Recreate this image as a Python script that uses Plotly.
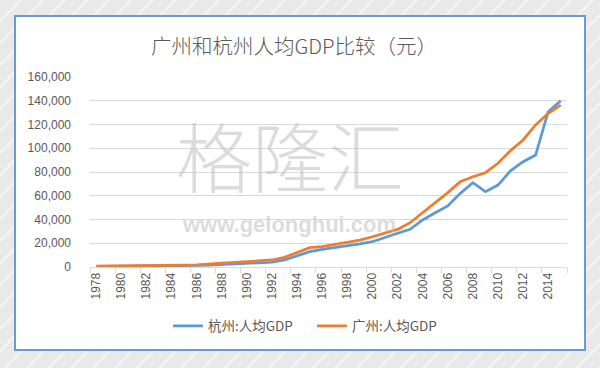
import plotly.graph_objects as go

# ---------------- data ----------------
years = list(range(1978, 2016))
hangzhou_gdp = [450, 500, 600, 650, 700, 800, 950, 1200, 1300, 1600, 2100, 2500,
                2800, 3300, 4000, 5900, 9300, 12900, 14900, 16300, 18000, 19400,
                21300, 25000, 28400, 31700, 39600, 45700, 51400, 62000, 71000, 63400,
                69000, 81000, 88700, 94300, 130800, 140000]
guangzhou_gdp = [650, 700, 770, 850, 900, 970, 1200, 1600, 1800, 2200, 3200, 3800,
                 4300, 4800, 5900, 8100, 12000, 16300, 17100, 19100, 21300, 22700,
                 25500, 28400, 31700, 37300, 45700, 53600, 62600, 71800, 76000, 79400,
                 87300, 98000, 107000, 119600, 129400, 136400]
tick_years = list(range(1978, 2015, 2))
title_text = "广州和杭州人均GDP比较（元）"
series_names = ["杭州:人均GDP", "广州:人均GDP"]

# ---------------- layout geometry (pixels) ----------------
W, H = 600, 368
L, R, T, B = 90, 567, 77, 267
pw, ph = R - L, B - T

def fx(px):
    return (px - L) / pw

def fy(py):
    return (B - py) / ph

grey = "#595959"

fig = go.Figure()
fig.add_trace(go.Scatter(x=years, y=hangzhou_gdp, mode="lines", name=series_names[0],
                         line=dict(color="#5B9BD5", width=2.75)))
fig.add_trace(go.Scatter(x=years, y=guangzhou_gdp, mode="lines", name=series_names[1],
                         line=dict(color="#ED7D31", width=2.75)))

shapes = []
# faint diagonal streaks on the grey background
for k in range(-20, 40):
    x0 = k * 22
    shapes.append(dict(type="line", xref="paper", yref="paper", layer="below",
                       x0=fx(x0), y0=fy(H + 5), x1=fx(x0 + 380), y1=fy(H - 375),
                       line=dict(color="rgba(255,255,255,0.55)", width=2)))
# white card
shapes.append(dict(type="rect", xref="paper", yref="paper", layer="below",
                   x0=fx(15), x1=fx(585), y0=fy(350), y1=fy(16),
                   fillcolor="white", line=dict(color="#6A9AD0", width=2)))

wm_color = "rgba(185,185,185,0.5)"
annotations = [
    dict(text=title_text, xref="paper", yref="paper", x=fx(294), y=fy(45),
         xanchor="center", yanchor="middle", showarrow=False,
         font=dict(family="Noto Sans CJK SC", size=20.5, color=grey, weight=300)),
    dict(text="格隆汇", xref="paper", yref="paper", x=fx(290), y=fy(210),
         xanchor="center", yanchor="bottom", showarrow=False, borderpad=0,
         font=dict(family="Noto Sans CJK SC", size=76, color=wm_color, weight=300)),
    dict(text="<b>www.gelonghui.com</b>", xref="paper", yref="paper", x=fx(289), y=fy(211),
         xanchor="center", yanchor="top", showarrow=False, borderpad=0,
         font=dict(family="Liberation Sans", size=22, color=wm_color)),
]

fig.update_layout(
    width=W, height=H,
    margin=dict(l=L, r=W - R, t=T, b=H - B, pad=0, autoexpand=False),
    paper_bgcolor="#E9E9E9",
    plot_bgcolor="rgba(0,0,0,0)",
    shapes=shapes,
    annotations=annotations,
    showlegend=True,
    legend=dict(orientation="h", x=fx(168), y=fy(326), xanchor="left", yanchor="middle",
                font=dict(family="Noto Sans CJK SC", size=13.5, color=grey),
                bgcolor="rgba(0,0,0,0)", itemwidth=30, tracegroupgap=0,
                entrywidth=99, entrywidthmode="pixels"),
    xaxis=dict(range=[1977.5, 2015.5], tickmode="array", tickvals=tick_years,
               ticktext=[str(y) for y in tick_years], tickangle=-90, ticks="",
               automargin=False,
               showgrid=False, showline=True, linecolor="#D9D9D9", linewidth=1,
               zeroline=False,
               tickfont=dict(family="Liberation Sans", size=12, color=grey),
               minor=dict(ticks="outside", tickmode="linear", tick0=1977.5, dtick=2,
                          ticklen=5, tickcolor="#D9D9D9", showgrid=False)),
    yaxis=dict(range=[0, 160000], tickmode="linear", tick0=0, dtick=20000,
               tickformat=",", showgrid=True, gridcolor="#D9D9D9", gridwidth=1,
               automargin=False, ticklabelstandoff=18,
               zeroline=False, showline=False, ticks="",
               tickfont=dict(family="Liberation Sans", size=12, color=grey)),
)

fig.write_html("out.html", config={"displayModeBar": False},
               post_script="document.body.style.margin='0';document.body.style.padding='0';")
